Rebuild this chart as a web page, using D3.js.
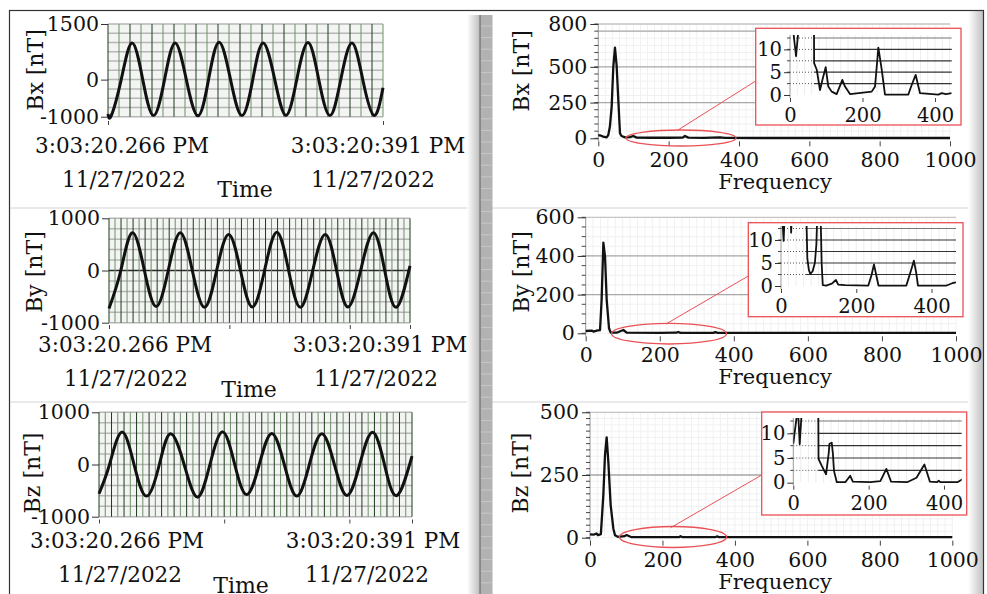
<!DOCTYPE html>
<html>
<head>
<meta charset="utf-8">
<script src="https://cdn.jsdelivr.net/npm/d3@7"></script>
<style>
body { margin: 0; background: #fff; }
svg { display: block; }
text { font-family: "DejaVu Serif", serif; fill: #111; }
</style>
</head>
<body>
<div id="wrapper"></div>
<script>
// time axis labels (same for the three waveforms)
const startLabel = ["3:03:20.266 PM", "11/27/2022"];
const endLabel = ["3:03:20:391 PM", "11/27/2022"];

// waveforms: [ms from start, nT] read at peaks, troughs and zero crossings
const bxWave = [[0,-930],[1.5,-970],[6,0],[10.9,990],[15.8,0],[20.7,-970],[25.7,0],[30.5,990],[35.6,0],[40.9,-975],[45.7,0],[50.5,1010],[55.7,0],[60.9,-970],[65.8,0],[70.5,990],[75.8,0],[80.9,-965],[85.8,0],[90.9,1000],[95.8,0],[100.9,-970],[105.8,0],[110.9,990],[115.8,0],[120.9,-965],[125,-220]];
const byWave = [[0,-730],[4.9,0],[9.7,725],[14.7,0],[19.6,-690],[24.6,0],[29.6,725],[34.6,0],[39.7,-705],[44.7,0],[49.7,690],[54.6,0],[59.5,-700],[64.6,0],[69.7,735],[74.6,0],[79.5,-705],[84.6,0],[89.8,690],[94.5,0],[99.2,-700],[104.5,0],[109.8,725],[114.5,0],[119.3,-705],[125,90]];
const bzWave = [[0,-560],[4.2,0],[9.1,620],[14,0],[19,-605],[24.1,0],[28.6,590],[34,0],[39.3,-625],[44.3,0],[49.4,625],[54.2,0],[59,-575],[64,0],[69,595],[74,0],[79,-605],[84,0],[89,590],[94,0],[99,-595],[104.1,0],[109.2,620],[114,0],[118.9,-595],[125,160]];

// spectra: [Hz, nT]
const bxSpec = [[0,23],[8,18],[14,12],[23.7,7],[28.4,23],[33,82],[38,222],[42.7,502],[47.4,635],[52,513],[56.9,268],[61.6,35],[66,16],[76,7],[90,8],[99.5,16],[109,5],[150,4],[200,4],[240,5],[246.4,16],[256,5],[300,3],[346,6],[360,3],[450,2],[600,2],[800,2],[1000,2]];
const bySpec = [[0,12],[16,14],[20.7,9],[29.7,14],[38.7,17],[43,172],[47.7,469],[52.2,397],[56.7,172],[63,26],[67.5,3],[83.7,3],[95,12],[101.7,17],[110.7,3],[200,2],[245,3],[250,7],[256,2],[345,2],[350,6],[356,2],[500,2],[1000,2]];
const bzSpec = [[0,13],[10,12],[18,17],[22,10],[30,14],[36.8,170],[41.4,330],[46,400],[50.6,303],[57,130],[64.4,37],[69,10],[78,3],[95,6],[101,10.6],[115,2],[200,2],[245,2],[250,6],[256,2],[345,2],[350,5],[356,2],[500,2],[1000,2]];

// zoomed spectra shown in the red insets: [Hz, nT]
const bxZoom = [[0,20],[9,14],[16.6,8.5],[23,14],[30,20],[66,20],[66.5,7],[73.6,5.6],[82.8,1.1],[90,3.5],[98.4,6.1],[105.7,1.85],[115,0.74],[128.7,0.2],[144.4,3.3],[151.7,1.85],[165.5,0.2],[225.3,0.74],[234.5,1.85],[243.7,10.4],[252.9,5.6],[262,0.1],[326.4,0.1],[335.6,2.2],[346.7,4.4],[358.6,0.4],[409,0.1],[418.4,0.4],[430,0.2],[446,0.4]];
const byZoom = [[0,20],[7,9.8],[12,20],[24,20],[27,11.6],[30,20],[66,20],[70,6],[74,3.5],[78,2.6],[84,3.2],[90,5],[94,9],[98,20],[104,20],[108,5],[111,0.2],[120,0.1],[135,0.5],[146,1.3],[152,0.3],[170,0.2],[232,0.1],[241,2.5],[247,4.7],[254,2],[259,0.1],[333,0.1],[344,3],[353,5.5],[359,3],[364,0.1],[440,0.1],[455,0.6],[465,0.8]];
const bzZoom = [[0,7.9],[10,14],[13,14],[17,7.8],[22,14],[30,20],[66,20],[67,4.8],[75,3.5],[87,1.7],[94,6],[96,7.9],[102,8.1],[105,6],[108,2.4],[115.5,0.1],[138,0.1],[151,1.4],[158,0.2],[204,0.1],[231,0.3],[247,2.8],[259.6,0.2],[302,0.1],[327,1],[348,3.7],[362.7,0.2],[382,0.1],[386,0.4],[390,0.1],[435.6,0.1],[449,0.7]];

// tick values
const bxWaveTicks = [-1000, 0, 1500];
const byWaveTicks = [-1000, 0, 1000];
const bzWaveTicks = [-1000, 0, 1000];
const bxTimeTicks = [0, 125];
const byTimeTicks = [0, 50, 100, 125];
const bzTimeTicks = [0, 50, 100, 125];
const freqTicks = [0, 200, 400, 600, 800, 1000];
const bxSpecTicks = [0, 250, 500, 800];
const bySpecTicks = [0, 200, 400, 600];
const bzSpecTicks = [0, 250, 500];
const bxSpecGrid = [250, 500, 750];
const bySpecGrid = [200, 400];
const bzSpecGrid = [250];
const zoomTicksY = [0, 5, 10];
const zoomGridY = [2.5, 5, 7.5, 10, 12.5];
const zoomTicksX = [0, 200, 400];

const svg = d3.select("#wrapper").append("svg").attr("width", 987).attr("height", 594);
const defs = svg.append("defs");
const shade = defs.append("linearGradient").attr("id", "shade");
shade.append("stop").attr("offset", "0%").attr("stop-color", "#ffffff");
shade.append("stop").attr("offset", "100%").attr("stop-color", "#c2c2c2");

// frame, pane separators, divider
svg.append("rect").attr("x", 968).attr("y", 11).attr("width", 15).attr("height", 590).attr("fill", "url(#shade)");
svg.append("rect").attr("x", 9.5).attr("y", 10.5).attr("width", 974).attr("height", 600)
    .attr("fill", "none").attr("stroke", "#333").attr("stroke-width", 1.2);
[208, 402].forEach(yy => {
    svg.append("line").attr("x1", 10).attr("x2", 968).attr("y1", yy).attr("y2", yy)
        .attr("stroke", "#d4d4d4").attr("stroke-width", 1);
});
svg.append("rect").attr("x", 467).attr("y", 15).attr("width", 12).attr("height", 580).attr("fill", "url(#shade)");
svg.append("rect").attr("x", 480.5).attr("y", 15).attr("width", 12).attr("height", 580).attr("fill", "#b2b2b2");
svg.append("g").selectAll("line").data(d3.range(26, 594, 11.6)).enter().append("line")
    .attr("x1", 481).attr("x2", 492).attr("y1", d => d).attr("y2", d => d)
    .attr("stroke", "#c8c8c8").attr("stroke-width", 1);
svg.append("line").attr("x1", 480).attr("x2", 480).attr("y1", 15).attr("y2", 594)
    .attr("stroke", "#6e6e6e").attr("stroke-width", 1.5);

// ---------- left: waveforms ----------
const leftPanels = [
    {label: "Bx [nT]", data: bxWave, yTicks: bxWaveTicks, xTicks: bxTimeTicks, x0: 108, x1: 383, yTop: 24, yBot: 116.7,
     yDom: [-1000, 1500], hStep: 250, vStep: 5, axisY: 121, labelPos: [43, 70],
     rows: [153, 187, 197], startX: [122, 124], endX: [378, 373], timeX: 245},
    {label: "By [nT]", data: byWave, yTicks: byWaveTicks, xTicks: byTimeTicks, x0: 109, x1: 410, yTop: 218.3, yBot: 322.7,
     yDom: [-1000, 1000], hStep: 200, vStep: 2.5, axisY: 325, labelPos: [42, 272],
     rows: [352, 386, 397], startX: [125, 126], endX: [380, 376], timeX: 249, darkZero: true},
    {label: "Bz [nT]", data: bzWave, yTicks: bzWaveTicks, xTicks: bzTimeTicks, x0: 99, x1: 412, yTop: 412.3, yBot: 516.7,
     yDom: [-1000, 1000], hStep: 200, vStep: 2.5, axisY: 519.5, labelPos: [40, 473],
     rows: [548, 582, 593], startX: [117, 120], endX: [373, 367], timeX: 241}
];

leftPanels.forEach(p => {
    const x = d3.scaleLinear().domain([0, 125]).range([p.x0, p.x1]);
    const y = d3.scaleLinear().domain(p.yDom).range([p.yBot, p.yTop]);
    const g = svg.append("g");

    g.append("rect").attr("x", p.x0).attr("y", p.yTop).attr("width", p.x1 - p.x0).attr("height", p.yBot - p.yTop)
        .attr("fill", "#f3f5f2");
    g.selectAll(".hg").data(d3.range(p.yDom[0], p.yDom[1] + 1, p.hStep)).enter().append("line")
        .attr("x1", p.x0).attr("x2", p.x1).attr("y1", d => y(d)).attr("y2", d => y(d))
        .attr("stroke", d => (d === 0 && p.darkZero) ? "#2a2a2a" : "#b6b6b6").attr("stroke-width", 1.5);
    g.selectAll(".vg").data(d3.range(0, 125.01, p.vStep)).enter().append("line")
        .attr("x1", d => x(d)).attr("x2", d => x(d)).attr("y1", p.yTop).attr("y2", p.yBot)
        .attr("stroke", (d, i) => i % 2 ? "#6f8f6a" : "#1f3a1f").attr("stroke-width", 1);

    g.append("path").datum(p.data)
        .attr("fill", "none").attr("stroke", "#111").attr("stroke-width", 3)
        .attr("d", d3.line().x(d => x(d[0])).y(d => y(d[1])).curve(d3.curveNatural));

    const ya = g.append("g").attr("transform", `translate(${p.x0},0)`)
        .call(d3.axisLeft(y).tickValues(p.yTicks).tickSize(7).tickPadding(2).tickFormat(d => String(d)));
    ya.select(".domain").remove();
    ya.selectAll("line").attr("stroke", "#333");
    ya.selectAll("text").attr("font-size", 20.5).attr("font-family", "DejaVu Serif").attr("fill", "#111");

    const xa = g.append("g").attr("transform", `translate(0,${p.axisY})`)
        .call(d3.axisBottom(x).tickValues(p.xTicks).tickSize(4).tickFormat(""));
    xa.select(".domain").remove();
    xa.selectAll("line").attr("stroke", "#444");

    g.append("text").attr("transform", `translate(${p.labelPos[0]},${p.labelPos[1]}) rotate(-90)`)
        .attr("text-anchor", "middle").attr("font-size", 22).text(p.label);
    g.append("text").attr("x", p.startX[0]).attr("y", p.rows[0]).attr("text-anchor", "middle").attr("font-size", 21.5).text(startLabel[0]);
    g.append("text").attr("x", p.startX[1]).attr("y", p.rows[1]).attr("text-anchor", "middle").attr("font-size", 21.5).text(startLabel[1]);
    g.append("text").attr("x", p.endX[0]).attr("y", p.rows[0]).attr("text-anchor", "middle").attr("font-size", 21.5).text(endLabel[0]);
    g.append("text").attr("x", p.endX[1]).attr("y", p.rows[1]).attr("text-anchor", "middle").attr("font-size", 21.5).text(endLabel[1]);
    g.append("text").attr("x", p.timeX).attr("y", p.rows[2]).attr("text-anchor", "middle").attr("font-size", 22).text("Time");
});

// ---------- right: spectra ----------
const red = "#ea5156";
const rightPanels = [
    {label: "Bx [nT]", data: bxSpec, zoom: bxZoom, yTicks: bxSpecTicks, grid: bxSpecGrid, x0: 598.3, x1: 950, yTop: 24, yZero: 138.3,
     yDom: [0, 800], minor: 50, labelPos: [529, 71], freqY: 189,
     box: [755.7, 28.3, 205.3, 96.7], ix0: 790, ix1: 951.7, iMax: 446, iZero: 95, iTop: 38, iTopClip: 35,
     ell: [681, 138, 55, 8], link: [755.7, 81, 678, 130]},
    {label: "By [nT]", data: bySpec, zoom: byZoom, yTicks: bySpecTicks, grid: bySpecGrid, x0: 585.7, x1: 956, yTop: 217.3, yZero: 333.3,
     yDom: [0, 600], minor: 50, labelPos: [529, 272], freqY: 384,
     box: [748.3, 222.7, 214.7, 94], ix0: 781, ix1: 956, iMax: 465, iZero: 286, iTop: 228.5, iTopClip: 226,
     ell: [669, 333.7, 57.5, 10.3], link: [748.3, 276, 666, 324]},
    {label: "Bz [nT]", data: bzSpec, zoom: bzZoom, yTicks: bzSpecTicks, grid: bzSpecGrid, x0: 590, x1: 952.3, yTop: 412.3, yZero: 537.7,
     yDom: [0, 500], minor: 25, labelPos: [528, 473], freqY: 589,
     box: [761.7, 412, 205, 103], ix0: 793.3, ix1: 961.7, iMax: 447, iZero: 482.7, iTop: 421, iTopClip: 418,
     ell: [673, 537, 53.7, 10.5], link: [761.7, 475, 670.7, 527.7]}
];

rightPanels.forEach((p, k) => {
    const x = d3.scaleLinear().domain([0, 1000]).range([p.x0, p.x1]);
    const y = d3.scaleLinear().domain(p.yDom).range([p.yZero, p.yTop]);
    const g = svg.append("g");

    // faint minor grid
    g.selectAll(".mv").data(d3.range(0, 1001, 20)).enter().append("line")
        .attr("x1", d => x(d)).attr("x2", d => x(d)).attr("y1", p.yTop).attr("y2", p.yZero)
        .attr("stroke", "#f1f1f1").attr("stroke-width", 1);
    g.selectAll(".mh").data(d3.range(0, p.yDom[1] + 1, p.minor)).enter().append("line")
        .attr("x1", p.x0).attr("x2", p.x1).attr("y1", d => y(d)).attr("y2", d => y(d))
        .attr("stroke", "#f1f1f1").attr("stroke-width", 1);
    // top line and major grid
    g.append("line").attr("x1", p.x0).attr("x2", p.x1).attr("y1", p.yTop).attr("y2", p.yTop)
        .attr("stroke", "#c6c6c6").attr("stroke-width", 1.3);
    g.selectAll(".hg").data(p.grid).enter().append("line")
        .attr("x1", p.x0).attr("x2", p.x1).attr("y1", d => y(d)).attr("y2", d => y(d))
        .attr("stroke", "#a9a9a9").attr("stroke-width", 1.3);
    g.append("line").attr("x1", p.x0).attr("x2", p.x0).attr("y1", p.yTop).attr("y2", p.yZero + 3)
        .attr("stroke", "#9a9a9a").attr("stroke-width", 1);

    // minor y ticks
    g.selectAll(".mt").data(d3.range(0, p.yDom[1] + 1, p.minor)).enter().append("line")
        .attr("x1", p.x0 - 4).attr("x2", p.x0).attr("y1", d => y(d)).attr("y2", d => y(d))
        .attr("stroke", "#444").attr("stroke-width", 1);
    const ya = g.append("g").attr("transform", `translate(${p.x0},0)`)
        .call(d3.axisLeft(y).tickValues(p.yTicks).tickSize(8).tickPadding(3));
    ya.select(".domain").remove();
    ya.selectAll("line").attr("stroke", "#333");
    ya.selectAll("text").attr("font-size", 20.5).attr("font-family", "DejaVu Serif").attr("fill", "#111");

    const xa = g.append("g").attr("transform", `translate(0,${p.yZero + 3})`)
        .call(d3.axisBottom(x).tickValues(freqTicks).tickSize(5).tickPadding(6.5).tickFormat(d => String(d)));
    xa.select(".domain").remove();
    xa.selectAll("line").attr("stroke", "#444");
    xa.selectAll("text").attr("font-size", 20.5).attr("font-family", "DejaVu Serif").attr("fill", "#111");

    g.append("path").datum(p.data)
        .attr("fill", "none").attr("stroke", "#111").attr("stroke-width", 2.3).attr("stroke-linejoin", "round")
        .attr("d", d3.line().x(d => x(d[0])).y(d => y(d[1])));

    g.append("text").attr("transform", `translate(${p.labelPos[0]},${p.labelPos[1]}) rotate(-90)`)
        .attr("text-anchor", "middle").attr("font-size", 22).text(p.label);
    g.append("text").attr("x", 775).attr("y", p.freqY).attr("text-anchor", "middle").attr("font-size", 21).text("Frequency");

    // red marker and link
    g.append("ellipse").attr("cx", p.ell[0]).attr("cy", p.ell[1]).attr("rx", p.ell[2]).attr("ry", p.ell[3])
        .attr("fill", "none").attr("stroke", red).attr("stroke-width", 1.3);
    g.append("line").attr("x1", p.link[0]).attr("y1", p.link[1]).attr("x2", p.link[2]).attr("y2", p.link[3])
        .attr("stroke", red).attr("stroke-width", 1);

    // inset
    const ix = d3.scaleLinear().domain([0, p.iMax]).range([p.ix0, p.ix1]);
    const iy = d3.scaleLinear().domain([0, 12.5]).range([p.iZero, p.iTop]);
    const ig = g.append("g");
    ig.append("rect").attr("x", p.box[0]).attr("y", p.box[1]).attr("width", p.box[2]).attr("height", p.box[3])
        .attr("fill", "#fff").attr("stroke", red).attr("stroke-width", 1.3);
    ig.selectAll(".iv").data(d3.range(20, p.iMax, 20)).enter().append("line")
        .attr("x1", d => ix(d)).attr("x2", d => ix(d)).attr("y1", p.iTopClip).attr("y2", p.iZero)
        .attr("stroke", "#eeeeee").attr("stroke-width", 1);
    ig.selectAll(".idot").data(zoomGridY).enter().append("line")
        .attr("x1", p.ix0).attr("x2", ix(66)).attr("y1", d => iy(d)).attr("y2", d => iy(d))
        .attr("stroke", "#555").attr("stroke-width", 1).attr("stroke-dasharray", "1,2");
    ig.selectAll(".isol").data(zoomGridY).enter().append("line")
        .attr("x1", ix(66)).attr("x2", p.ix1).attr("y1", d => iy(d)).attr("y2", d => iy(d))
        .attr("stroke", d => d === 12.5 ? "#777" : "#333").attr("stroke-width", 1.2);
    ig.append("line").attr("x1", p.ix0).attr("x2", p.ix0).attr("y1", p.iTopClip).attr("y2", p.iZero + 3)
        .attr("stroke", "#9a9a9a").attr("stroke-width", 1);
    ig.selectAll(".imt").data(zoomGridY).enter().append("line")
        .attr("x1", p.ix0 - 3).attr("x2", p.ix0).attr("y1", d => iy(d)).attr("y2", d => iy(d))
        .attr("stroke", "#444").attr("stroke-width", 1);

    const iya = ig.append("g").attr("transform", `translate(${p.ix0},0)`)
        .call(d3.axisLeft(iy).tickValues(zoomTicksY).tickSize(6).tickPadding(2));
    iya.select(".domain").remove();
    iya.selectAll("line").attr("stroke", "#333");
    iya.selectAll("text").attr("font-size", 19.5).attr("font-family", "DejaVu Serif").attr("fill", "#111");
    const ixa = ig.append("g").attr("transform", `translate(0,${p.iZero + 3})`)
        .call(d3.axisBottom(ix).tickValues(zoomTicksX).tickSize(4).tickPadding(6.5));
    ixa.select(".domain").remove();
    ixa.selectAll("line").attr("stroke", "#444");
    ixa.selectAll("text").attr("font-size", 19.5).attr("font-family", "DejaVu Serif").attr("fill", "#111");

    defs.append("clipPath").attr("id", "iclip" + k).append("rect")
        .attr("x", p.ix0).attr("y", p.iTopClip).attr("width", p.ix1 - p.ix0).attr("height", p.iZero + 4 - p.iTopClip);
    ig.append("path").datum(p.zoom).attr("clip-path", `url(#iclip${k})`)
        .attr("fill", "none").attr("stroke", "#111").attr("stroke-width", 1.8).attr("stroke-linejoin", "round")
        .attr("d", d3.line().x(d => ix(d[0])).y(d => iy(d[1])));
});
</script>
</body>
</html>
